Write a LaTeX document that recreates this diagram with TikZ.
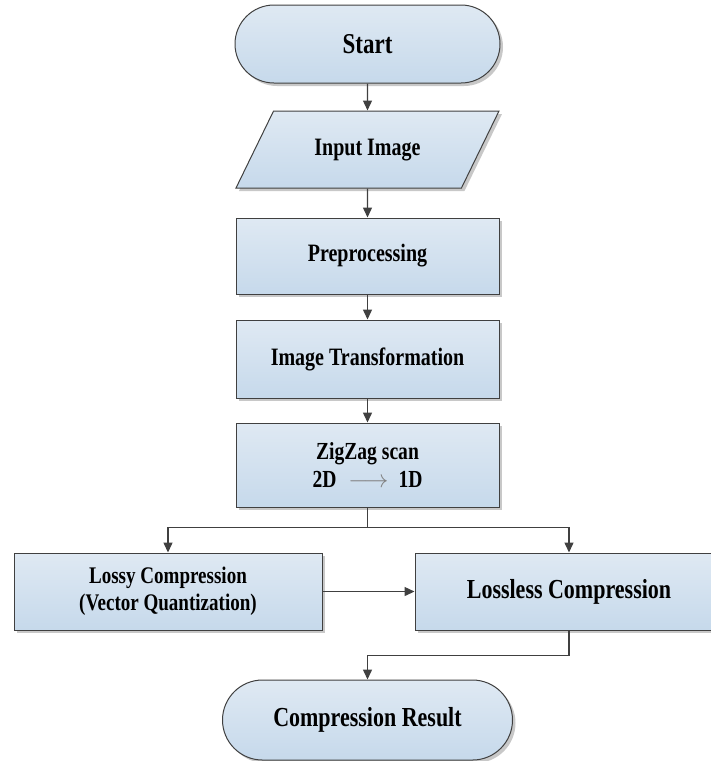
\documentclass[tikz,border=0pt]{standalone}
\usepackage{fontspec}
\setmainfont{Liberation Serif}[FakeStretch=0.8]
\usepackage{tikz}
\usetikzlibrary{arrows.meta,positioning,shapes.geometric,shapes.misc,shadows}
\definecolor{flowtop}{HTML}{DFE9F3}
\definecolor{flowbot}{HTML}{C6D9EB}
\definecolor{flowline}{HTML}{404040}
\definecolor{flowshade}{HTML}{C8C8C8}

\begin{document}
\begin{tikzpicture}[
    x=1pt,y=1pt,
    font=\bfseries\fontsize{25}{26}\selectfont,
    base/.style={draw=flowline,line width=1pt,top color=flowtop,bottom color=flowbot,
      drop shadow={shadow xshift=3pt,shadow yshift=-3pt,fill=flowshade,opacity=1},
      align=center,inner sep=0pt},
    box/.style={base,rectangle,minimum width=263pt,minimum height=77pt},
    term/.style={base,rounded rectangle,minimum width=265pt,minimum height=78pt},
    io/.style={base,trapezium,trapezium left angle=64,trapezium right angle=116,
      trapezium stretches body,text height=17pt,text depth=5pt,inner ysep=27.5pt,
      minimum width=263pt},
    arr/.style={-{Triangle[length=10pt,width=9pt]},line width=1.4pt,draw=flowline}
  ]
    \useasboundingbox (0,0) rectangle (711,-761);

    \node[term,font=\bfseries\fontsize{28.75}{30}\selectfont] (start) at (367.5,-44) {Start};
    \node[io,below=27pt of start] (input) {Input Image};
    \node[box,below=29pt of input,minimum height=76pt] (prep) {Preprocessing};
    \node[box,below=25pt of prep,minimum height=78pt] (trans) {Image Transformation};
    \node[box,below=24pt of trans,minimum height=84pt,font=\bfseries\fontsize{24.5}{28}\selectfont] (zigzag)
      {ZigZag scan\\2D\hspace{12pt}{\mdseries\color{gray}$\longrightarrow$}\hspace{10pt}1D};
    \node[box,below=45pt of zigzag,xshift=-199.5pt,minimum width=308pt,
      font=\bfseries\fontsize{23.8}{27}\selectfont] (lossy) {Lossy Compression\\(Vector Quantization)};
    \node[box,right=92pt of lossy,minimum width=308pt,font=\bfseries\fontsize{27.5}{30}\selectfont] (lossless)
      {Lossless Compression};
    \node[term,anchor=north,yshift=-49pt,minimum width=290pt,minimum height=80pt,
      font=\bfseries\fontsize{27.5}{30}\selectfont] (result) at (zigzag.south |- lossless.south) {Compression Result};

    \draw[arr] (start) -- (input);
    \draw[arr] (input) -- (prep);
    \draw[arr] (prep) -- (trans);
    \draw[arr] (trans) -- (zigzag);
    \draw[arr] (zigzag.south) -- ++(0,-20) -| (lossy.north);
    \draw[arr] (zigzag.south) -- ++(0,-20) -| (lossless.north);
    \draw[arr] (lossy) -- (lossless);
    \draw[arr] (lossless.south) -- ++(0,-25) -| (result.north);
  \end{tikzpicture}
\end{document}
